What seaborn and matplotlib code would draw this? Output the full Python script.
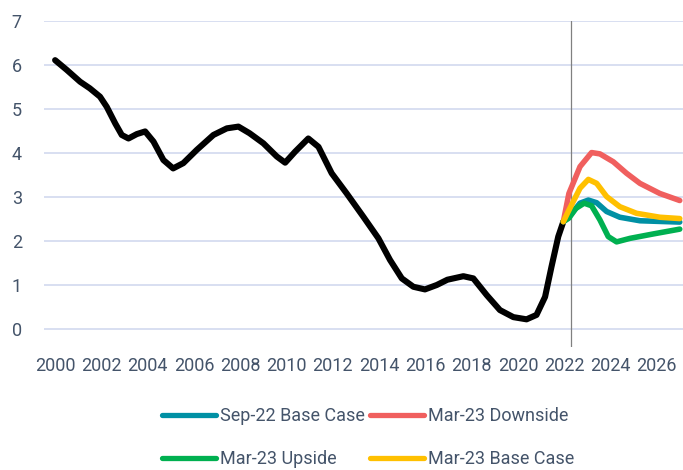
import matplotlib
matplotlib.use("Agg")
import matplotlib.pyplot as plt
import seaborn as sns

# ---- data ----
hist_years = [2000.0, 2000.5, 2001.08, 2001.5, 2001.94, 2002.23, 2002.6, 2002.88, 2003.17,
              2003.53, 2003.89, 2004.25, 2004.68, 2005.1, 2005.54, 2006.12, 2006.84, 2007.42,
              2007.92, 2008.4, 2009.0, 2009.58, 2009.94, 2010.37, 2010.94, 2011.38, 2011.95,
              2012.6, 2013.32, 2013.97, 2014.47, 2014.98, 2015.48, 2015.98, 2016.49, 2016.95,
              2017.64, 2018.07, 2018.65, 2019.22, 2019.8, 2020.37, 2020.8, 2021.17, 2021.45,
              2021.74, 2021.96]
hist_values = [6.11, 5.89, 5.62, 5.47, 5.28, 5.05, 4.67, 4.41, 4.33,
               4.43, 4.49, 4.26, 3.84, 3.65, 3.77, 4.07, 4.41, 4.56,
               4.60, 4.45, 4.22, 3.92, 3.78, 4.03, 4.33, 4.14, 3.54,
               3.08, 2.55, 2.06, 1.57, 1.15, 0.96, 0.90, 1.00, 1.12,
               1.20, 1.15, 0.77, 0.43, 0.27, 0.22, 0.32, 0.73, 1.42,
               2.10, 2.44]

sep22_base_years = [2021.96, 2022.2, 2022.68, 2023.04, 2023.4, 2023.83, 2024.4, 2025.27, 2026.99]
sep22_base_values = [2.44, 2.55, 2.86, 2.93, 2.87, 2.67, 2.54, 2.46, 2.43]

mar23_down_years = [2021.96, 2022.2, 2022.68, 2023.18, 2023.54, 2024.12, 2024.69, 2025.27, 2026.13, 2026.99]
mar23_down_values = [2.44, 3.08, 3.69, 4.01, 3.98, 3.80, 3.54, 3.31, 3.08, 2.92]

mar23_up_years = [2021.96, 2022.2, 2022.5, 2022.86, 2023.18, 2023.54, 2023.9, 2024.26, 2024.84, 2025.84, 2026.99]
mar23_up_values = [2.44, 2.52, 2.74, 2.86, 2.80, 2.48, 2.10, 1.98, 2.06, 2.16, 2.27]

mar23_base_years = [2021.96, 2022.2, 2022.68, 2023.04, 2023.4, 2023.83, 2024.4, 2025.12, 2026.13, 2026.99]
mar23_base_values = [2.44, 2.70, 3.20, 3.40, 3.31, 3.01, 2.78, 2.63, 2.54, 2.51]

series_names = ["Sep-22 Base Case", "Mar-23 Downside", "Mar-23 Upside", "Mar-23 Base Case"]
series_colors = ["#0090A4", "#F05F5E", "#00B050", "#FFC000"]

x_ticks = list(range(2000, 2027, 2))
y_ticks = list(range(0, 8))
forecast_start = 2022.3

# ---- style ----
sns.set_style("white")
plt.rcParams["font.family"] = ["Roboto", "DejaVu Sans"]
text_color = "#44546A"

fig = plt.figure(figsize=(6.83, 4.70), dpi=100)
W, H = 683, 470
ax = fig.add_axes([44 / W, 1 - 347 / H, (683 - 44) / W, (347 - 21) / H])

ax.set_ylim(-0.409, 7)
ax.set_xlim(1999.52, 2027.13)

for y in y_ticks:
    ax.axhline(y, color="#D6DCF0", lw=1.3, zorder=0)

ax.axvline(forecast_start, color="#808080", lw=0.9, zorder=1)

sns.lineplot(x=hist_years, y=hist_values, ax=ax, color="black", lw=4.4,
             sort=False, solid_capstyle="round", solid_joinstyle="round", zorder=3)

fc_years = [sep22_base_years, mar23_down_years, mar23_up_years, mar23_base_years]
fc_values = [sep22_base_values, mar23_down_values, mar23_up_values, mar23_base_values]
handles = []
for i, (xs, ys, name, col) in enumerate(zip(fc_years, fc_values, series_names, series_colors)):
    sns.lineplot(x=xs, y=ys, ax=ax, color=col, lw=4.0, sort=False,
                 solid_capstyle="round", solid_joinstyle="round", zorder=4 + i)
    handles.append(plt.Line2D([], [], color=col, lw=3.8, solid_capstyle="round", label=name))

for s in ax.spines.values():
    s.set_visible(False)

ax.set_xticks(x_ticks)
ax.set_xticklabels([str(t) for t in x_ticks])
ax.set_yticks(y_ticks)
ax.set_yticklabels([str(t) for t in y_ticks])
ax.tick_params(axis="x", length=0, pad=7, labelsize=13, labelcolor=text_color)
ax.tick_params(axis="y", length=0, pad=16, labelsize=13, labelcolor=text_color)
ax.set_xlabel("")
ax.set_ylabel("")
ax.grid(False)

# legend fills column-wise: reorder so rows read Sep-22 | Downside, Upside | Base
leg_order = [0, 2, 1, 3]
leg = fig.legend(handles=[handles[i] for i in leg_order], loc="center left",
                 bbox_to_anchor=(162 / W, 1 - 437.5 / H), ncol=2, frameon=False,
                 fontsize=13, handlelength=3.0, handletextpad=0.2, columnspacing=0.3,
                 labelspacing=1.4, borderpad=0, borderaxespad=0)
for t in leg.get_texts():
    t.set_color(text_color)

fig.savefig("out.png", dpi=100)
